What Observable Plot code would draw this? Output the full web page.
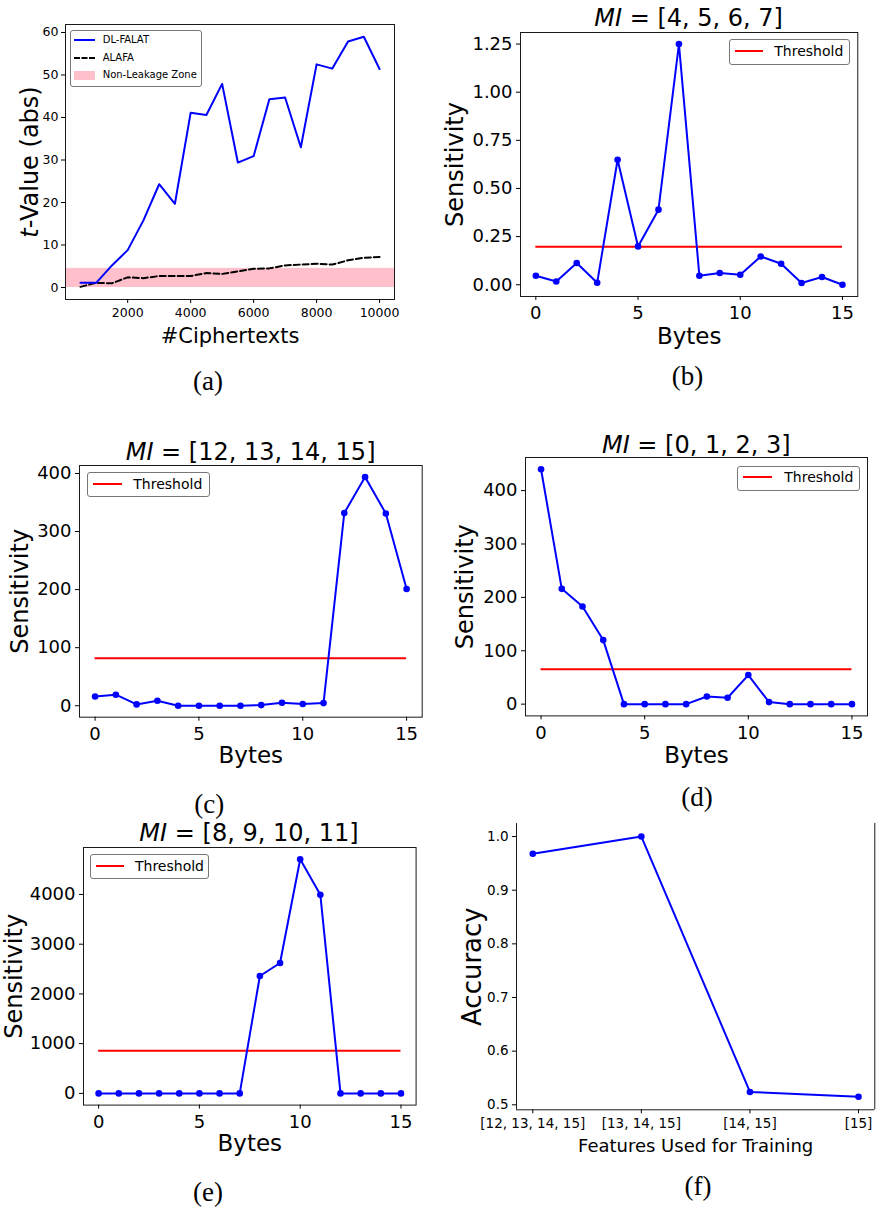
<!DOCTYPE html>
<html>
<head>
<meta charset="utf-8">
<script src="https://cdn.jsdelivr.net/npm/d3@7"></script>
<script src="https://cdn.jsdelivr.net/npm/@observablehq/plot@0.6"></script>
<style>
  html, body { margin: 0; padding: 0; background: #fff; }
  #fig { position: relative; width: 880px; height: 1209px; overflow: hidden; background: #fff; font-family: "DejaVu Sans", sans-serif; color: #000; }
  #fig > svg { position: absolute; }
  .txt { position: absolute; white-space: nowrap; line-height: 1; }
  .cap { font-family: "Liberation Serif", serif; font-size: 27px; }
  .lg-box { position: absolute; box-sizing: border-box; border: 1px solid #777; border-radius: 3px; background: rgba(255,255,255,0.85); }
  .lg-line { position: absolute; height: 0; }
</style>
</head>
<body>
<div id="fig"></div>
<script>
// ---- (a) t-test values against number of ciphertexts ----
const ciphertexts = [500, 1000, 1500, 2000, 2500, 3000, 3500, 4000, 4500, 5000,
                     5500, 6000, 6500, 7000, 7500, 8000, 8500, 9000, 9500, 10000];
const tDlFalat = [1.1, 1.1, 5.2, 8.8, 15.8, 24.3, 19.7, 41.1, 40.6, 47.9,
                  29.4, 30.9, 44.3, 44.7, 33.0, 52.5, 51.5, 57.9, 59.0, 51.4];
const tAlafa = [0.15, 1.1, 1.0, 2.4, 2.2, 2.7, 2.7, 2.7, 3.4, 3.2,
                3.8, 4.4, 4.5, 5.2, 5.4, 5.6, 5.4, 6.4, 7.0, 7.2];
const nonLeakageZone = [0, 4.5];
const cipherTicks = [2000, 4000, 6000, 8000, 10000];
const tTicks = [0, 10, 20, 30, 40, 50, 60];

// ---- (b)-(e) per-byte sensitivity for each multiplexer input group ----
const bytes = [0, 1, 2, 3, 4, 5, 6, 7, 8, 9, 10, 11, 12, 13, 14, 15];
const byteTicks = [0, 5, 10, 15];
const sensMI4to7 = [0.047, 0.017, 0.113, 0.010, 0.649, 0.199, 0.390, 1.25,
                    0.047, 0.061, 0.052, 0.147, 0.109, 0.009, 0.040, 0.0];
const thrMI4to7 = 0.197;
const sensMI12to15 = [16, 19, 2.3, 8.6, 0, 0, 0, 0, 1.1, 5.2, 2.9, 4.6, 332, 394, 331, 201];
const thrMI12to15 = 82;
const sensMI0to3 = [440, 216, 183, 120, 0, 0, 0, 0, 14.4, 11.9, 54.5, 3.8, 0, 0, 0, 0];
const thrMI0to3 = 65.5;
const sensMI8to11 = [0, 0, 0, 0, 0, 0, 0, 0, 2361, 2622, 4709, 3993, 0, 0, 0, 0];
const thrMI8to11 = 856;

// ---- (f) accuracy for reduced feature sets ----
const featureSets = ["[12, 13, 14, 15]", "[13, 14, 15]", "[14, 15]", "[15]"];
const accuracy = [0.968, 1.0, 0.524, 0.515];
const accuracyTicks = [0.5, 0.6, 0.7, 0.8, 0.9, 1.0];

const fig = document.getElementById("fig");
const ML = 100, MR = 20, MT = 20, MB = 60;

// Place a plot so that its frame lands on [x0, y0]-[x1, y1] of the figure.
function placePlot(frame, options) {
  const [x0, y0, x1, y1] = frame;
  const svg = Plot.plot({
    width: x1 - x0 + ML + MR,
    height: y1 - y0 + MT + MB,
    marginLeft: ML, marginRight: MR, marginTop: MT, marginBottom: MB,
    style: { background: "transparent", overflow: "visible", fontFamily: "DejaVu Sans, sans-serif", color: "#000" },
    ...options
  });
  svg.style.left = (x0 - ML) + "px";
  svg.style.top = (y0 - MT) + "px";
  fig.append(svg);
  return svg;
}

// Axis titles drawn as centred text relative to the frame.
function yTitle(text, dx, size) {
  return Plot.text([text], { frameAnchor: "left", dx, rotate: -90, fontSize: size, textAnchor: "middle", lineAnchor: "middle" });
}
function xTitle(text, dy, size) {
  return Plot.text([text], { frameAnchor: "bottom", dy, fontSize: size, textAnchor: "middle", lineAnchor: "middle" });
}

function addText(html, x, y, { size = 14, cls = "", rotate = 0, anchor = "center" } = {}) {
  const d = document.createElement("div");
  d.className = "txt " + cls;
  d.innerHTML = html;
  d.style.left = x + "px";
  d.style.top = y + "px";
  if (cls.indexOf("cap") < 0) d.style.fontSize = size + "px";
  const tx = anchor === "start" ? "0" : "-50%";
  d.style.transform = `translate(${tx}, -50%)` + (rotate ? ` rotate(${rotate}deg)` : "");
  fig.append(d);
  return d;
}

function legendBox(x0, y0, x1, y1) {
  const d = document.createElement("div");
  d.className = "lg-box";
  Object.assign(d.style, { left: x0 + "px", top: y0 + "px", width: (x1 - x0) + "px", height: (y1 - y0) + "px" });
  fig.append(d);
}
function legendLine(x0, x1, y, color, dashed) {
  const d = document.createElement("div");
  d.className = "lg-line";
  Object.assign(d.style, {
    left: x0 + "px", top: (y - 1) + "px", width: (x1 - x0) + "px",
    borderTop: `2px ${dashed ? "dashed" : "solid"} ${color}`
  });
  fig.append(d);
}
function legendSwatch(x0, y0, x1, y1, color) {
  const d = document.createElement("div");
  Object.assign(d.style, { position: "absolute", left: x0 + "px", top: y0 + "px", width: (x1 - x0) + "px", height: (y1 - y0) + "px", background: color });
  fig.append(d);
}

const SPINE = "#1a1a1a";

// ---------- (a) ----------
{
  const rows = ciphertexts.map((n, i) => ({ n, dl: tDlFalat[i], al: tAlafa[i] }));
  const xd = [25, 10475];
  placePlot([65, 24, 394, 299], {
    x: { domain: xd },
    y: { domain: [-2.82, 61.88] },
    marks: [
      Plot.rect([nonLeakageZone], { x1: xd[0], x2: xd[1], y1: d => d[0], y2: d => d[1], fill: "pink" }),
      Plot.line(rows, { x: "n", y: "al", stroke: "black", strokeWidth: 2, strokeDasharray: "6,3" }),
      Plot.line(rows, { x: "n", y: "dl", stroke: "blue", strokeWidth: 2 }),
      Plot.frame({ stroke: SPINE, strokeWidth: 1 }),
      Plot.axisX({ ticks: cipherTicks, tickFormat: d3.format("d"), tickSize: 4, tickPadding: 5, fontSize: 12.5, label: null }),
      Plot.axisY({ ticks: tTicks, tickFormat: d3.format("d"), tickSize: 4, tickPadding: 3, fontSize: 12.5, label: null }),
      xTitle("#Ciphertexts", 36.3, 21)
    ]
  });
  addText("<i>t</i>-Value (abs)", 30, 161.7, { size: 24, rotate: -90 });
  legendBox(70, 30, 201.7, 86.7);
  legendLine(74, 95, 40, "blue", false);
  addText("DL-FALAT", 102.7, 40, { size: 10, anchor: "start" });
  legendLine(74, 95, 57.7, "black", true);
  addText("ALAFA", 102.7, 57.7, { size: 10, anchor: "start" });
  legendSwatch(74, 70.7, 95, 80, "pink");
  addText("Non-Leakage Zone", 102.7, 75.3, { size: 10, anchor: "start" });
  addText("(a)", 208, 380.5, { cls: "cap" });
}

// ---------- (b)-(e) ----------
function sensitivityPanel({ frame, values, threshold, yDomain, yTicks, yFormat, yLabelDx, xLabelDy }) {
  const rows = bytes.map((b, i) => ({ b, s: values[i] }));
  placePlot(frame, {
    x: { domain: [-0.75, 15.75] },
    y: { domain: yDomain },
    marks: [
      Plot.ruleY([threshold], { x1: bytes[0], x2: bytes[bytes.length - 1], stroke: "red", strokeWidth: 2 }),
      Plot.line(rows, { x: "b", y: "s", stroke: "blue", strokeWidth: 2 }),
      Plot.dot(rows, { x: "b", y: "s", r: 3.3, fill: "blue" }),
      Plot.frame({ stroke: SPINE, strokeWidth: 1 }),
      Plot.axisX({ ticks: byteTicks, tickFormat: d3.format("d"), tickSize: 4, tickPadding: 6, fontSize: 18, label: null }),
      Plot.axisY({ ticks: yTicks, tickFormat: yFormat, tickSize: 4, tickPadding: 4, fontSize: 18, label: null }),
      yTitle("Sensitivity", yLabelDx, 24),
      xTitle("Bytes", xLabelDy, 23)
    ]
  });
}

// (b)
sensitivityPanel({
  frame: [520, 31.7, 857.3, 295.7], values: sensMI4to7, threshold: thrMI4to7,
  yDomain: [-0.061, 1.31], yTicks: [0, 0.25, 0.5, 0.75, 1.0, 1.25], yFormat: d3.format(".2f"),
  yLabelDx: -65, xLabelDy: 40
});
addText("<i>MI</i> = [4, 5, 6, 7]", 688.6, 17.5, { size: 24 });
legendBox(729, 39, 850, 65);
legendLine(735, 762.7, 51, "red", false);
addText("Threshold", 774.3, 51, { size: 14, anchor: "start" });
addText("(b)", 687.5, 375.5, { cls: "cap" });

// (c)
sensitivityPanel({
  frame: [79.3, 465.3, 422, 717], values: sensMI12to15, threshold: thrMI12to15,
  yDomain: [-19.7, 413.7], yTicks: [0, 100, 200, 300, 400], yFormat: d3.format("d"),
  yLabelDx: -59.3, xLabelDy: 38.3
});
addText("<i>MI</i> = [12, 13, 14, 15]", 250.6, 451.7, { size: 24 });
legendBox(87, 472.3, 209.7, 497.3);
legendLine(93.3, 121.7, 484, "red", false);
addText("Threshold", 133.3, 484, { size: 14, anchor: "start" });
addText("(c)", 209.2, 803.5, { cls: "cap" });

// (d)
sensitivityPanel({
  frame: [525.3, 457.3, 867.3, 715.7], values: sensMI0to3, threshold: thrMI0to3,
  yDomain: [-22, 462], yTicks: [0, 100, 200, 300, 400], yFormat: d3.format("d"),
  yLabelDx: -60.3, xLabelDy: 39.3
});
addText("<i>MI</i> = [0, 1, 2, 3]", 696.3, 445, { size: 24 });
legendBox(737.3, 465.7, 860.3, 490.7);
legendLine(743.3, 772.3, 477.3, "red", false);
addText("Threshold", 784.3, 477.3, { size: 14, anchor: "start" });
addText("(d)", 697, 797, { cls: "cap" });

// (e)
sensitivityPanel({
  frame: [82.7, 846.7, 415.3, 1104.3], values: sensMI8to11, threshold: thrMI8to11,
  yDomain: [-235.5, 4944.5], yTicks: [0, 1000, 2000, 3000, 4000], yFormat: d3.format("d"),
  yLabelDx: -69.4, xLabelDy: 38.4
});
addText("<i>MI</i> = [8, 9, 10, 11]", 249, 832.8, { size: 24 });
legendBox(90, 853.7, 209.3, 879.3);
legendLine(96, 124, 865.7, "red", false);
addText("Threshold", 135, 865.7, { size: 14, anchor: "start" });
addText("(e)", 208, 1192, { cls: "cap" });

// ---------- (f) ----------
{
  const rows = featureSets.map((f, i) => ({ i, acc: accuracy[i] }));
  const xd = [-0.15, 3.15];
  const yd = [0.4907, 1.0243];
  placePlot([515.7, 823, 874, 1109.3], {
    x: { domain: xd },
    y: { domain: yd },
    marks: [
      Plot.line(rows, { x: "i", y: "acc", stroke: "blue", strokeWidth: 2 }),
      Plot.dot(rows, { x: "i", y: "acc", r: 3.3, fill: "blue" }),
      // left, right and bottom spines only
      Plot.ruleX(xd, { stroke: SPINE, strokeWidth: 1 }),
      Plot.ruleY([yd[0]], { stroke: SPINE, strokeWidth: 1 }),
      Plot.axisX({ ticks: [0, 1, 2, 3], tickFormat: i => featureSets[i], tickSize: 4, tickPadding: 5, fontSize: 13.5, label: null }),
      Plot.axisY({ ticks: accuracyTicks, tickFormat: d3.format(".1f"), tickSize: 4, tickPadding: 4, fontSize: 13.5, label: null }),
      yTitle("Accuracy", -44, 26),
      xTitle("Features Used for Training", 36, 18)
    ]
  });
  addText("(f)", 698, 1185.5, { cls: "cap" });
}
</script>
</body>
</html>
